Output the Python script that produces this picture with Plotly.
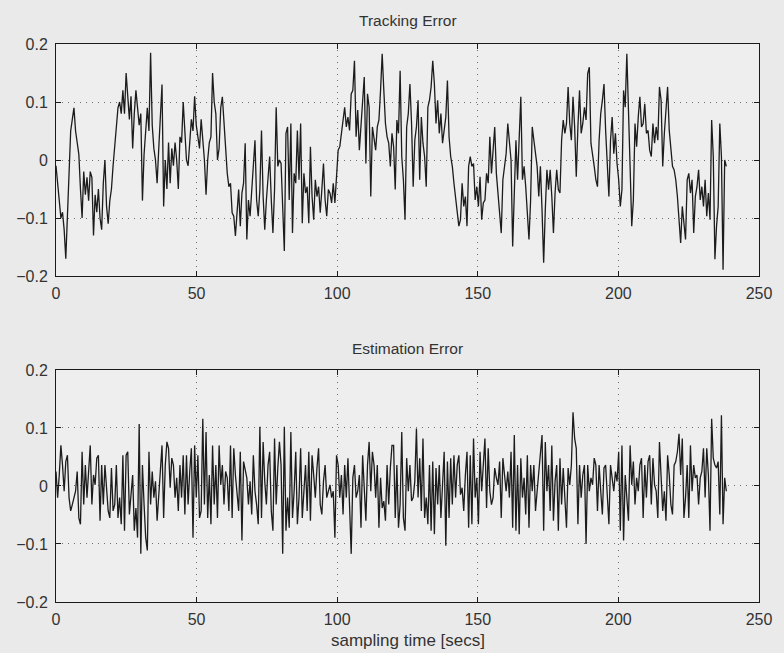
import numpy as np
import plotly.graph_objects as go

# Sampling interval of the recorded signals (seconds)
SAMPLE_PERIOD = 0.58

# Tracking error samples
tracking_error = [
    -0.01, -0.04, -0.07, -0.10, -0.09, -0.12, -0.17, -0.10, -0.02, 0.05,
    0.07, 0.09, 0.05, 0.03, 0.01, -0.05, -0.10, -0.02, -0.06, -0.03,
    -0.07, -0.02, -0.03, -0.13, -0.06, -0.09, -0.05, -0.10, -0.12, -0.04,
    0.00, -0.08, -0.11, -0.07, -0.05, -0.01, 0.02, 0.05, 0.09, 0.10,
    0.08, 0.12, 0.08, 0.15, 0.10, 0.07, 0.11, 0.02, 0.08, 0.12,
    0.09, 0.06, 0.08, -0.07, 0.01, 0.06, 0.09, 0.05, 0.185, 0.06,
    0.02, 0.00, -0.04, 0.02, 0.08, 0.13, -0.08, 0.00, -0.05, 0.03,
    -0.04, 0.02, -0.01, 0.03, 0.00, -0.05, 0.04, 0.03, 0.10, 0.05,
    0.00, -0.01, 0.04, 0.07, 0.05, 0.11, 0.06, 0.04, 0.02, 0.07,
    0.03, 0.00, -0.06, 0.00, 0.03, 0.04, 0.15, 0.10, 0.08, 0.00,
    0.02, 0.09,
    0.109, 0.063, 0.011, -0.023, -0.046, -0.04, -0.091, -0.097, -0.131, -0.08,
    -0.051, -0.114, -0.057, -0.04, 0.029, -0.137, -0.069, -0.097, -0.057, -0.023,
    0.034, -0.069, -0.097, -0.051, 0.051, -0.063, -0.12, -0.069, -0.034, 0.006,
    -0.069, -0.126, -0.051, 0.091, -0.011, 0.0, -0.006, -0.08, -0.157, 0.046,
    0.057, -0.069, 0.063, -0.126, -0.023, -0.04, 0.051, -0.034, 0.063, -0.109,
    -0.023, -0.057, -0.046, -0.109, 0.023, -0.063, -0.103, -0.034, -0.063, -0.046,
    -0.091, -0.051, -0.006, -0.069, -0.097, -0.051, -0.057, -0.074, -0.04, -0.074,
    -0.023, 0.017, 0.023, 0.046, 0.063, 0.091, 0.057, 0.074, 0.051, 0.114,
    0.12, 0.171, 0.04, 0.086, 0.017, 0.063, 0.103, 0.143, -0.006, 0.114,
    0.091, -0.063, 0.057, 0.034, 0.017, 0.057, 0.069, 0.12, 0.183, 0.12,
    0.063, 0.04, 0.029, -0.011, 0.046,
    0.023, -0.051, 0.069, 0.046, 0.154, 0.006, -0.034, -0.103, 0.057, 0.08,
    0.131, 0.063, -0.046, 0.034, 0.057, 0.103, -0.034, 0.074, 0.029, 0.006,
    -0.046, 0.091, 0.103, 0.126, 0.171, 0.131, 0.063, 0.103, 0.046, 0.08,
    0.029, 0.057, 0.074, 0.137, 0.04, 0.006, -0.011, -0.04, -0.063, -0.091,
    -0.114, -0.103, -0.04, -0.08, -0.063, -0.114, -0.011, 0.006, -0.011, -0.006,
    -0.069, -0.046, -0.08, -0.029, -0.103, -0.074, -0.069, -0.023, -0.04, 0.04,
    -0.023, 0.017, 0.057, -0.023, -0.063, -0.097, -0.126, -0.034, -0.011, 0.011,
    0.063, 0.029, 0.0, -0.149, -0.051, 0.034, -0.034, 0.046, 0.109, -0.034,
    -0.011, -0.046, -0.091, -0.137, -0.069, 0.057, 0.034, 0.006, -0.011, -0.063,
    -0.011, -0.086, -0.177, -0.086, -0.017, -0.051, -0.017, -0.063, -0.126, -0.057,
    -0.017, -0.051, -0.057, 0.034, 0.069,
    0.046, 0.063, 0.126, 0.063, 0.034, 0.109, 0.057, -0.029, 0.057, 0.12,
    0.046, 0.063, 0.091, 0.069, 0.149, 0.16, 0.029, 0.011, -0.011, -0.034,
    -0.046, 0.034, 0.08, 0.103, 0.131, 0.051, -0.011, -0.063, 0.034, 0.074,
    0.011, 0.046, -0.006, -0.034, -0.08, -0.051, 0.12, 0.091, 0.183, 0.063,
    -0.011, -0.114, -0.069, 0.063, 0.023, 0.074, 0.109, 0.057, 0.063, 0.097,
    0.046, 0.051, 0.017, 0.006, 0.063, 0.029, 0.057, 0.034, 0.126, 0.103,
    -0.011, 0.046, 0.08, 0.126, 0.051, 0.017, -0.011, -0.017, -0.034, -0.063,
    -0.103, -0.143, -0.08, -0.114, -0.137, -0.034, -0.023, -0.057, -0.034, -0.126,
    -0.063, -0.046, -0.017, -0.069, -0.046, -0.08, -0.034, -0.097, -0.057, -0.103,
    0.069, 0.006, -0.171, -0.114, -0.08, 0.063, 0.006, -0.189, 0.0, -0.011,
]

# Estimation error samples
estimation_error = [
    0.025, -0.020, 0.019, 0.070, 0.036, -0.009, 0.042, 0.053, -0.020, -0.043,
    -0.032, -0.020, -0.009, 0.025, -0.055, -0.066, 0.059, -0.032, 0.036, -0.020,
    0.025, 0.070, -0.032, 0.019, 0.002, 0.048, 0.053, -0.060, 0.036, -0.032,
    0.036, -0.009, -0.043, -0.055, 0.031, -0.043, -0.032, 0.036, -0.055, -0.020,
    -0.066, 0.053, -0.077, 0.053, 0.059, -0.049, -0.020, 0.019, -0.077, -0.038,
    -0.089, 0.107, -0.117, 0.036, -0.032, -0.089, -0.111, 0.059, -0.032, 0.025,
    -0.020, 0.008, -0.060, -0.009, 0.036, 0.070, -0.055, 0.036, 0.076, 0.065,
    -0.003, 0.048, 0.036, -0.020, 0.014, -0.043, 0.036, -0.020, 0.053, -0.049,
    0.053, -0.032, 0.025, 0.065, -0.089, 0.070, -0.020, 0.053, -0.055, -0.043,
    0.116, -0.032, 0.093, -0.055, 0.019, -0.066, 0.070, -0.032, 0.036, -0.055,
    0.070, 0.002,
    0.036, -0.032, 0.025, 0.014, -0.043, 0.070, -0.055, 0.065, 0.019, -0.020,
    -0.043, 0.059, -0.094, 0.042, 0.025, 0.014, -0.032, 0.008, -0.049, 0.053,
    -0.009, -0.032, -0.066, 0.102, -0.055, 0.076, 0.008, -0.032, 0.036, 0.059,
    -0.043, -0.077, 0.082, -0.032, 0.031, 0.076, 0.036, -0.117, 0.102, -0.077,
    -0.020, -0.072, 0.093, -0.055, -0.009, 0.059, -0.066, -0.020, 0.065, -0.055,
    -0.009, 0.036, -0.043, 0.059, -0.060, 0.053, 0.019, -0.020, 0.031, 0.065,
    -0.032, -0.049, 0.008, 0.036, -0.020, -0.009, 0.002, -0.020, -0.009, -0.089,
    0.053, 0.036, -0.020, 0.019, -0.049, 0.036, -0.020, 0.048, -0.032, -0.117,
    0.014, 0.036, -0.020, -0.009, 0.019, -0.072, 0.053, -0.020, -0.060, 0.036,
    0.076, -0.009, 0.059, 0.036, -0.020, 0.036, -0.072, 0.014, -0.038, -0.026,
    -0.060, 0.036, -0.032, 0.031, 0.070,
    0.070, -0.055, 0.036, -0.072, -0.032, 0.093, -0.055, -0.077, 0.048, -0.009,
    0.036, -0.026, -0.020, 0.008, 0.099, -0.020, 0.048, -0.043, 0.082, -0.055,
    -0.020, -0.066, 0.036, -0.077, 0.042, -0.083, 0.031, -0.032, 0.036, -0.055,
    0.002, 0.059, -0.103, 0.042, -0.055, 0.048, -0.032, 0.053, -0.020, 0.036,
    0.053, -0.015, -0.003, -0.043, 0.019, 0.059, -0.072, 0.053, -0.066, 0.082,
    -0.020, 0.014, -0.066, 0.059, -0.009, 0.042, 0.082, -0.038, 0.065, -0.009,
    -0.032, -0.020, 0.031, 0.014, 0.002, 0.042, -0.055, 0.048, 0.014, -0.009,
    0.025, -0.020, 0.059, -0.072, 0.088, -0.077, 0.036, -0.083, 0.048, -0.020,
    0.014, -0.049, 0.053, -0.072, 0.036, -0.009, 0.036, -0.043, -0.009, 0.019,
    0.059, 0.088, -0.077, 0.076, -0.009, 0.036, -0.043, 0.070, -0.060, 0.008,
    0.036, -0.077, 0.048, -0.032, 0.031,
    -0.015, -0.072, 0.031, 0.002, 0.036, 0.127, 0.082, 0.065, -0.066, 0.036,
    -0.020, 0.019, 0.036, -0.100, 0.036, -0.009, 0.014, 0.002, 0.048, 0.036,
    -0.043, 0.036, -0.009, -0.049, 0.031, 0.036, -0.015, -0.066, 0.036, 0.014,
    -0.009, 0.025, 0.008, 0.059, -0.077, 0.070, -0.094, 0.019, -0.020, -0.060,
    0.070, 0.002, 0.042, -0.032, 0.014, -0.009, 0.036, 0.048, -0.055, 0.036,
    -0.020, 0.042, 0.053, -0.032, 0.048, 0.002, -0.009, -0.055, 0.076, 0.025,
    -0.043, -0.009, -0.060, 0.053, 0.019, -0.032, -0.049, 0.036, 0.042, 0.059,
    0.090, 0.019, 0.082, -0.055, -0.020, 0.036, -0.055, 0.070, -0.009, 0.036,
    0.014, 0.019, -0.032, 0.014, 0.025, 0.065, -0.020, 0.065, 0.019, -0.077,
    0.116, 0.048, 0.036, 0.031, 0.042, -0.049, 0.122, -0.066, 0.014, -0.009,
]

x_ticks = [0, 50, 100, 150, 200, 250]
y_ticks = [-0.2, -0.1, 0, 0.1, 0.2]
y_tick_text = ["\u22120.2", "\u22120.1", "0", "0.1", "0.2"]

t_track = np.arange(len(tracking_error)) * SAMPLE_PERIOD
t_est = np.arange(len(estimation_error)) * SAMPLE_PERIOD

FONT = "Liberation Sans, Arial, Helvetica, sans-serif"
INK = "#1a1a1a"
LINE = "#1c1c1c"
TEXT = "#333333"

fig = go.Figure()
fig.add_trace(go.Scatter(x=t_track, y=tracking_error, mode="lines",
                         line=dict(color=LINE, width=1.3), xaxis="x", yaxis="y",
                         showlegend=False, hoverinfo="skip"))
fig.add_trace(go.Scatter(x=t_est, y=estimation_error, mode="lines",
                         line=dict(color=LINE, width=1.3), xaxis="x2", yaxis="y2",
                         showlegend=False, hoverinfo="skip"))

axis_common = dict(
    ticks="inside", ticklen=5, tickwidth=1, tickcolor=INK,
    showline=True, linecolor=INK, linewidth=1, mirror="allticks",
    showgrid=True, gridcolor="#6e6e6e", griddash="1px,5px", gridwidth=1,
    zeroline=False, tickfont=dict(family=FONT, size=16, color=TEXT),
)

x_axis = dict(axis_common, range=[0, 250], tickmode="array", tickvals=x_ticks,
              ticklabelstandoff=3)
y_axis = dict(axis_common, range=[-0.2, 0.2], tickmode="array",
              tickvals=y_ticks, ticktext=y_tick_text, ticklabelstandoff=4)

top_dom = [0.5842, 1.0]
bot_dom = [0.0, 0.4158]

fig.update_layout(
    width=784, height=653,
    margin=dict(l=56, r=17, t=44, b=51),
    paper_bgcolor="#eaeaea",
    plot_bgcolor="#eeeeee",
    xaxis=dict(x_axis, anchor="y"),
    yaxis=dict(y_axis, domain=top_dom, anchor="x"),
    xaxis2=dict(x_axis, anchor="y2"),
    yaxis2=dict(y_axis, domain=bot_dom, anchor="x2"),
    annotations=[
        dict(text="Tracking Error", xref="x domain", yref="y domain",
             x=0.5, y=1, yanchor="middle", yshift=24, showarrow=False,
             font=dict(family=FONT, size=15.5, color=TEXT)),
        dict(text="Estimation Error", xref="x2 domain", yref="y2 domain",
             x=0.5, y=1, yanchor="middle", yshift=21, showarrow=False,
             font=dict(family=FONT, size=15.5, color=TEXT)),
        dict(text="sampling time [secs]", xref="x2 domain", yref="y2 domain",
             x=0.5, y=0, yanchor="middle", yshift=-38, showarrow=False,
             font=dict(family=FONT, size=17, color=TEXT)),
    ],
)

fig.write_html("out.html")
